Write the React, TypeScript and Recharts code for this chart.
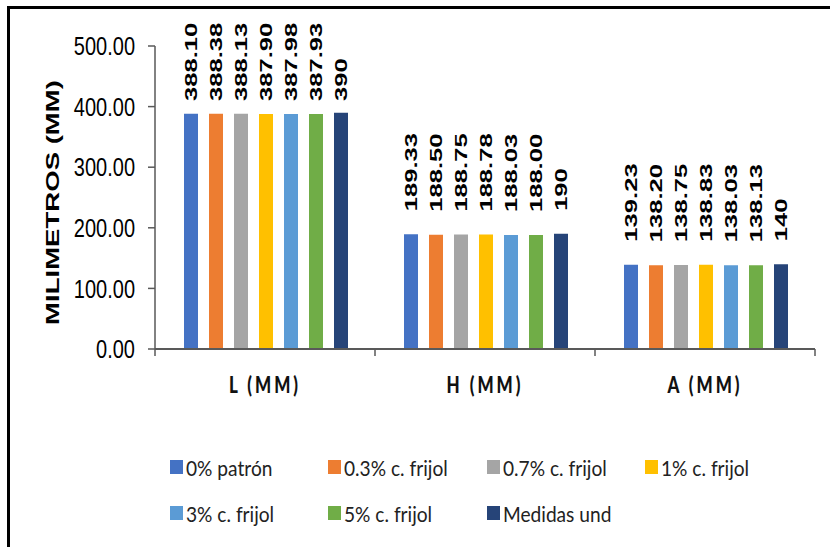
import React from 'react';
import { BarChart, Bar, XAxis, YAxis, Legend, LabelList } from 'recharts';

const categories = ['L (MM)', 'H (MM)', 'A (MM)'];

const seriesNames = [
  '0% patrón',
  '0.3% c. frijol',
  '0.7% c. frijol',
  '1% c. frijol',
  '3% c. frijol',
  '5% c. frijol',
  'Medidas und',
];

const patron = [388.1, 189.33, 139.23];
const frijol03 = [388.38, 188.5, 138.2];
const frijol07 = [388.13, 188.75, 138.75];
const frijol1 = [387.9, 188.78, 138.83];
const frijol3 = [387.98, 188.03, 138.03];
const frijol5 = [387.93, 188.0, 138.13];
const medidas = [390, 190, 140];

const seriesValues = [patron, frijol03, frijol07, frijol1, frijol3, frijol5, medidas];
const seriesDecimals = [2, 2, 2, 2, 2, 2, 0];
const seriesColors = ['#4472C4', '#ED7D31', '#A5A5A5', '#FFC000', '#5B9BD5', '#70AD47', '#264478'];

const yTicks = [0, 100, 200, 300, 400, 500];

const data = categories.map((name, i) => {
  const row: Record<string, string | number> = { name };
  seriesNames.forEach((s, j) => {
    row[s] = seriesValues[j][i];
  });
  return row;
});

const CHART_W = 830;
const CHART_H = 547;
const Y_AXIS_W = 155;
const MARGIN = { top: 46, right: 15, left: 0, bottom: 138 };
const PLOT_W = CHART_W - Y_AXIS_W - MARGIN.left - MARGIN.right;
const BAND = PLOT_W / categories.length;
const LABEL_MIN_BOTTOM = 101;
const AXIS_COLOR = '#595959';

const YTick = (props: any) => {
  const { x, y, payload } = props;
  return (
    <text
      transform={`translate(${x},${y}) scale(1,1.3)`}
      textAnchor="end"
      dy="0.35em"
      fontSize={20}
      fontFamily="'Liberation Sans', Arial, sans-serif"
      fill="#000"
    >
      {Number(payload.value).toFixed(2)}
    </text>
  );
};

const XTick = (props: any) => {
  const { x, y, payload, index } = props;
  const left = x - BAND / 2;
  const right = x + BAND / 2;
  return (
    <g>
      <line x1={left} x2={left} y1={y} y2={y + 7} stroke={AXIS_COLOR} strokeWidth={1.5} />
      {index === categories.length - 1 && (
        <line x1={right} x2={right} y1={y} y2={y + 7} stroke={AXIS_COLOR} strokeWidth={1.5} />
      )}
      <text
        transform={`translate(${x},${y + 44}) scale(1,1.3)`}
        textAnchor="middle"
        fontSize={17}
        fontWeight={900}
        letterSpacing={3}
        fontFamily="Lato, 'Open Sans', sans-serif"
        fill="#111"
      >
        {payload.value}
      </text>
    </g>
  );
};

const valueLabel = (decimals: number) => (props: any) => {
  const { x, y, width, value } = props;
  const cx = Number(x) + Number(width) / 2;
  const bottom = Math.max(Number(y) - 23, LABEL_MIN_BOTTOM);
  return (
    <text
      transform={`translate(${cx},${bottom}) rotate(-90) scale(1.6,1)`}
      textAnchor="start"
      dy="0.36em"
      fontSize={16}
      fontWeight="bold"
      fontFamily="'Liberation Sans', Arial, sans-serif"
      fill="#000"
    >
      {Number(value).toFixed(decimals)}
    </text>
  );
};

const YTitle = (props: any) => {
  const { viewBox } = props;
  const cy = viewBox.y + viewBox.height / 2 + 5;
  return (
    <text
      transform={`translate(52,${cy}) rotate(-90) scale(1.45,1)`}
      textAnchor="middle"
      dy="0.36em"
      fontSize={19}
      fontWeight="bold"
      fontFamily="'Liberation Sans', Arial, sans-serif"
      fill="#000"
    >
      MILIMETROS (MM)
    </text>
  );
};

const LegendBox = () => (
  <div style={{ display: 'flex', flexWrap: 'wrap', width: 640 }}>
    {seriesNames.map((s, i) => (
      <div key={s} style={{ width: 158.3, height: 46, display: 'flex', alignItems: 'center' }}>
        <span style={{ width: 13, height: 14, background: seriesColors[i], marginRight: 3, flexShrink: 0 }} />
        <span
          style={{
            display: 'inline-block',
            fontFamily: 'Lato, sans-serif',
            fontSize: 22,
            color: '#222',
            whiteSpace: 'nowrap',
            transform: 'scaleX(0.87)',
            transformOrigin: 'left center',
          }}
        >
          {s}
        </span>
      </div>
    ))}
  </div>
);

export default function App() {
  return (
    <div style={{ position: 'absolute', left: 0, top: 0, width: CHART_W, height: CHART_H, background: '#fff', overflow: 'hidden' }}>
      <BarChart
        width={CHART_W}
        height={CHART_H}
        data={data}
        margin={MARGIN}
        barCategoryGap={29}
        barGap={11}
      >
        <XAxis
          dataKey="name"
          height={60}
          tickSize={0}
          tickMargin={0}
          tickLine={false}
          axisLine={{ stroke: AXIS_COLOR, strokeWidth: 2 }}
          tick={<XTick />}
          interval={0}
        />
        <YAxis
          width={Y_AXIS_W}
          domain={[0, 500]}
          ticks={yTicks}
          tickSize={7}
          tickMargin={13}
          tickLine={{ stroke: AXIS_COLOR, strokeWidth: 1.5 }}
          axisLine={{ stroke: AXIS_COLOR, strokeWidth: 1.5 }}
          tick={<YTick />}
          label={{ content: <YTitle /> }}
        />
        <Legend
          layout="horizontal"
          verticalAlign="middle"
          align="center"
          wrapperStyle={{ top: 444, left: 170, width: 640 }}
          content={<LegendBox />}
        />
        {seriesNames.map((s, i) => (
          <Bar key={s} dataKey={s} fill={seriesColors[i]} isAnimationActive={false}>
            <LabelList dataKey={s} content={valueLabel(seriesDecimals[i])} />
          </Bar>
        ))}
      </BarChart>
      <div
        style={{
          position: 'absolute',
          left: 7,
          top: 6,
          right: 0,
          bottom: 0,
          borderTop: '3px solid #000',
          borderLeft: '3px solid #000',
          pointerEvents: 'none',
        }}
      />
    </div>
  );
}
